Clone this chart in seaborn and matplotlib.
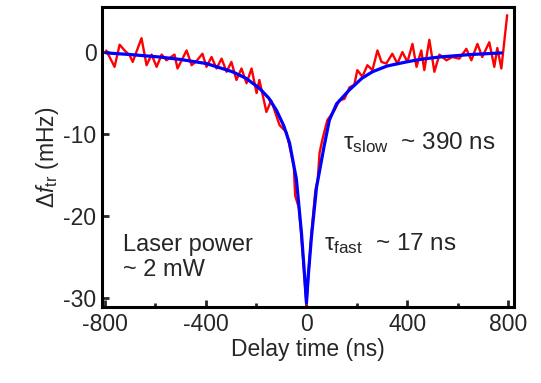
import matplotlib
matplotlib.use("Agg")
import matplotlib.pyplot as plt
import seaborn as sns
from matplotlib.ticker import MultipleLocator

t_data = [-795, -762, -742, -722, -702, -690, -655, -635, -615, -595, -575, -556,
          -524, -512, -476, -456, -437, -413, -397, -377, -357, -337, -317, -298,
          -278, -258, -238, -218, -198, -187, -159, -140, -107, -79, -67, -50,
          -45, -30, -20, -8, 0, 8, 20, 35, 45, 52, 63, 83, 111, 131, 151, 171,
          190, 202, 222, 242, 262, 282, 298, 317, 341, 361, 381, 401, 421, 437,
          456, 468, 488, 508, 528, 556, 579, 607, 635, 655, 679, 698, 726, 746,
          758, 774, 797]
df_data = [0.2, -1.8, 0.9, 0.2, -0.4, -1.2, 1.7, -1.6, -0.3, -1.8, -0.3, -1.0,
           -0.3, -2.0, 0.2, -1.6, -1.1, -0.2, -1.8, -0.6, -2.0, -0.8, -2.4, -1.2,
           -3.4, -2.0, -3.8, -2.0, -5.0, -3.4, -7.3, -5.9, -8.9, -9.8, -11.5, -14.0,
           -17.5, -19.0, -22.5, -27.5, -30.8, -27.0, -22.0, -17.0, -15.5, -12.3,
           -10.7, -8.3, -7.1, -5.9, -5.7, -4.3, -4.0, -2.2, -3.0, -1.6, -2.2, 0.2,
           -1.2, -1.4, -0.2, -1.4, 0.0, -1.2, 1.0, -1.8, 0.2, -2.2, 1.5, -2.4, -0.3,
           -1.0, -0.6, -0.8, 0.4, -1.0, 1.0, -0.6, 1.2, -1.8, 0.5, -2.0, 4.5]

# fitted curve
t_fit = [-795, -700, -583, -500, -397, -294, -240, -187, -150, -119, -90, -67,
         -40, -20, -8, 0, 8, 20, 40, 52, 70, 91, 120, 171, 220, 262, 320, 397,
         450, 528, 650, 775]
df_fit = [-0.1, -0.3, -0.6, -0.9, -1.4, -2.4, -3.2, -4.4, -5.6, -7.1, -9.0, -11.1,
          -15.5, -22.0, -27.0, -30.6, -27.0, -22.5, -16.5, -14.5, -11.5, -8.3,
          -6.3, -4.6, -3.2, -2.4, -1.7, -1.2, -0.9, -0.6, -0.3, -0.1]

sns.set_style("ticks")
plt.rcParams['font.family'] = ['Liberation Sans', 'DejaVu Sans']
plt.rcParams['mathtext.fontset'] = 'custom'
plt.rcParams['mathtext.rm'] = 'Liberation Sans'
plt.rcParams['mathtext.it'] = 'Liberation Sans:italic'
plt.rcParams['axes.unicode_minus'] = False

fig = plt.figure(figsize=(5.41, 3.83), dpi=100)
ax = fig.add_axes([0.1885, 0.1984, 0.7615, 0.7833])

sns.lineplot(x=t_data, y=df_data, color='red', linewidth=1.7, ax=ax, sort=False)
sns.lineplot(x=t_fit, y=df_fit, color='blue', linewidth=2.3, ax=ax, sort=False)

ax.set_xlim(-812, 824)
ax.set_ylim(-31.1, 5.5)
ax.xaxis.set_major_locator(MultipleLocator(400))
ax.xaxis.set_minor_locator(MultipleLocator(200))
ax.yaxis.set_major_locator(MultipleLocator(10))
ax.tick_params(which='both', direction='in', labelsize=16.5, width=2, pad=4)
ax.tick_params(which='major', length=5)
ax.tick_params(which='minor', length=3)
ax.tick_params(axis='y', which='minor', left=False)
for s in ax.spines.values():
    s.set_linewidth(2.2)
    s.set_color('black')

ax.set_xlabel('Delay time (ns)', fontsize=16.5, labelpad=2)
ax.set_ylabel(r'$\Delta\it{f}_{\rm tr}$ (mHz)', fontsize=16.5, labelpad=2)

ax.text(0.585, 0.525, r'τ$_{\rm slow}$  ~ 390 ns', transform=ax.transAxes, fontsize=17.5)
ax.text(0.54, 0.19, r'τ$_{\rm fast}$  ~ 17 ns', transform=ax.transAxes, fontsize=17.5)
ax.text(0.05, 0.105, 'Laser power\n~ 2 mW', transform=ax.transAxes, fontsize=17,
        linespacing=1.15)

fig.savefig("out.png", dpi=100)
plt.close(fig)
